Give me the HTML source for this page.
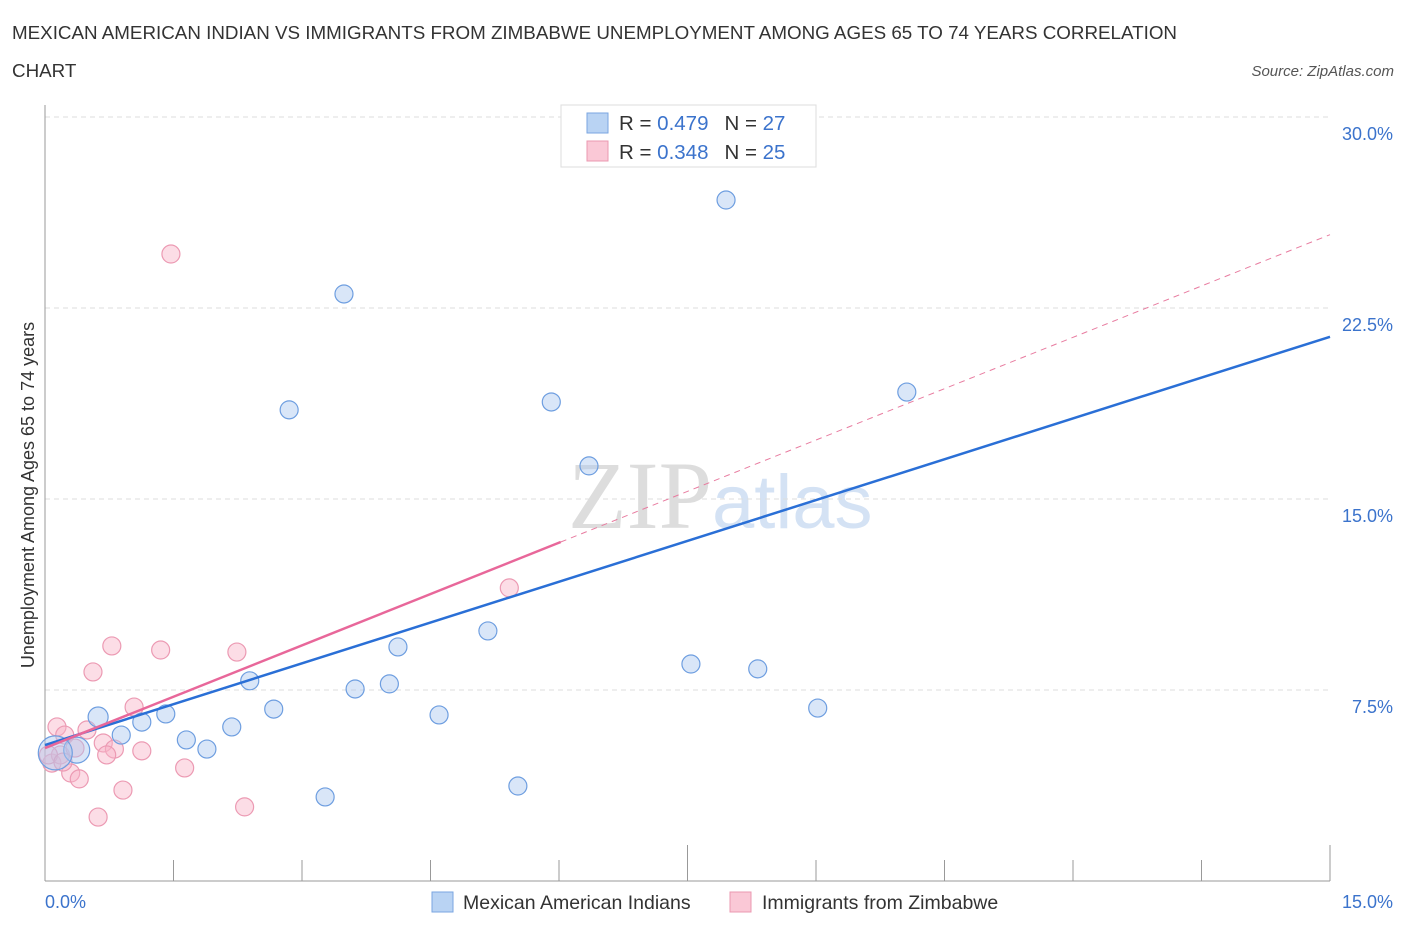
<!DOCTYPE html>
<html><head><meta charset="utf-8"><style>
body{margin:0;background:#fff;font-family:"Liberation Sans",sans-serif}
svg{display:block}
</style></head><body>
<svg width="1406" height="930">
<text x="12" y="39" font-size="18.8" fill="#333">MEXICAN AMERICAN INDIAN VS IMMIGRANTS FROM ZIMBABWE UNEMPLOYMENT AMONG AGES 65 TO 74 YEARS CORRELATION</text>
<text x="12" y="77" font-size="18.8" fill="#333">CHART</text>
<text x="1394" y="76" font-size="15" fill="#555" font-style="italic" text-anchor="end">Source: ZipAtlas.com</text>
<text x="712" y="528" font-size="96" fill="#ddd" font-family="Liberation Serif" text-anchor="end">ZIP</text>
<text x="712" y="528" font-size="76" fill="#d4e2f4">atlas</text>
<g id="grid"></g><g id="axes"></g><g id="marks"></g>
<text transform="translate(34,495) rotate(-90)" font-size="18" fill="#333" text-anchor="middle">Unemployment Among Ages 65 to 74 years</text>
<g>
<rect x="561" y="105" width="255" height="62" fill="#fff" stroke="#ddd"/>
<rect x="587" y="113" width="21" height="20" fill="#b9d3f3" stroke="#7aa6e0"/>
<rect x="587" y="141" width="21" height="20" fill="#fac8d6" stroke="#eb98b0"/>
<text x="619" y="130" font-size="20.5" fill="#333">R = <tspan fill="#3b73cc">0.479</tspan><tspan dx="16">N = </tspan><tspan fill="#3b73cc">27</tspan></text>
<text x="619" y="159" font-size="20.5" fill="#333">R = <tspan fill="#3b73cc">0.348</tspan><tspan dx="16">N = </tspan><tspan fill="#3b73cc">25</tspan></text>
</g>
<g>
<rect x="432" y="892" width="21" height="20" fill="#b9d3f3" stroke="#7aa6e0"/>
<text x="463" y="909" font-size="19.5" fill="#333">Mexican American Indians</text>
<rect x="730" y="892" width="21" height="20" fill="#fac8d6" stroke="#eb98b0"/>
<text x="762" y="909" font-size="19.5" fill="#333">Immigrants from Zimbabwe</text>
</g>
</svg>
<script>
const yTicks=[7.5,15,22.5,30];
const yTickLabels=["7.5%","15.0%","22.5%","30.0%"];
const xTickLabels=["0.0%","15.0%"];
const blueX=[7.95,3.49,2.85,5.91,6.35,10.06,5.17,4.12,7.54,8.32,2.39,3.62,4.02,9.02,2.67,4.60,0.62,1.13,1.41,0.89,1.65,2.18,1.89,5.52,3.27,0.37,0.12];
const blueY=[26.74,23.05,18.50,18.81,16.30,19.20,9.82,9.19,8.52,8.33,7.86,7.54,7.74,6.79,6.75,6.52,6.44,6.24,6.56,5.73,5.54,6.05,5.18,3.73,3.30,5.14,5.03];
const blueR=[9,9,9,9,9,9,9,9,9,9,9,9,9,9,9,9,10,9,9,9,9,9,9,9,9,13,17];
const pinkX=[1.47,5.42,0.78,1.35,2.24,0.56,1.04,0.14,0.23,0.49,0.68,0.81,0.72,1.13,1.63,0.08,0.30,0.40,0.91,0.62,2.33,0.18,0.35,0.04,0.21];
const pinkY=[24.62,11.51,9.23,9.07,8.99,8.21,6.83,6.05,5.73,5.93,5.42,5.18,4.95,5.11,4.44,4.63,4.24,4.01,3.57,2.51,2.91,4.95,5.22,4.95,4.67];
const blueLine=[5.34,21.37];
const pinkLine=[5.22,25.38];
const pinkSolidEnd=6.02;
const NS="http://www.w3.org/2000/svg";
const X=v=>45+v/15*1285, Y=v=>881-v/30*764;
function mk(t,a,p){const e=document.createElementNS(NS,t);for(const k in a)e.setAttribute(k,a[k]);document.getElementById(p).appendChild(e);return e;}
yTicks.forEach((v,i)=>{
 const g=mk('line',{x1:45,x2:1330,y1:Y(v),y2:Y(v),stroke:'#ddd','stroke-dasharray':'5,4'},'grid');
 
 
 const t=mk('text',{x:1393,y:Y(v)+23,'font-size':18,fill:'#3b73cc','text-anchor':'end'},'grid');
 t.textContent=yTickLabels[i];
 
 
});
const ax=mk('line',{x1:45,x2:45,y1:105,y2:881,stroke:'#999'},'axes');


const bx=mk('line',{x1:45,x2:1330,y1:881,y2:881,stroke:'#999'},'axes');


for(let i=0;i<=10;i++){const l=mk('line',{x1:X(i*1.5),x2:X(i*1.5),y1:i==5||i==10?845:860,y2:881,stroke:'#999'},'axes');
 
 }
[[0,'start',45],[1,'end',1393]].forEach(([i,a,x])=>{const t=mk('text',{x:x,y:908,'font-size':18,fill:'#3b73cc','text-anchor':a},'axes');t.textContent=xTickLabels[i];
 
 });
pinkX.forEach((x,i)=>{const c=mk('circle',{cx:X(x),cy:Y(pinkY[i]),r:9,fill:'rgba(248,180,200,0.45)',stroke:'#ec9ab3','stroke-width':1.2},'marks');
 
 });
blueX.forEach((x,i)=>{const c=mk('circle',{cx:X(x),cy:Y(blueY[i]),r:blueR[i],fill:'rgba(170,200,240,0.45)',stroke:'#6e9ee0','stroke-width':1.2},'marks');
 
 });
const pd=mk('line',{x1:X(pinkSolidEnd),y1:Y(pinkLine[0]+(pinkLine[1]-pinkLine[0])*pinkSolidEnd/15),x2:X(15),y2:Y(pinkLine[1]),stroke:'#e87ca0','stroke-dasharray':'6,5','stroke-width':1},'marks');


const bl=mk('line',{x1:X(0),y1:Y(blueLine[0]),x2:X(15),y2:Y(blueLine[1]),stroke:'#2a6fd6','stroke-width':2.5},'marks');


const pl=mk('line',{x1:X(0),y1:Y(pinkLine[0]),x2:X(pinkSolidEnd),y2:Y(pinkLine[0]+(pinkLine[1]-pinkLine[0])*pinkSolidEnd/15),stroke:'#e8679a','stroke-width':2.5},'marks');


</script>
</body></html>
